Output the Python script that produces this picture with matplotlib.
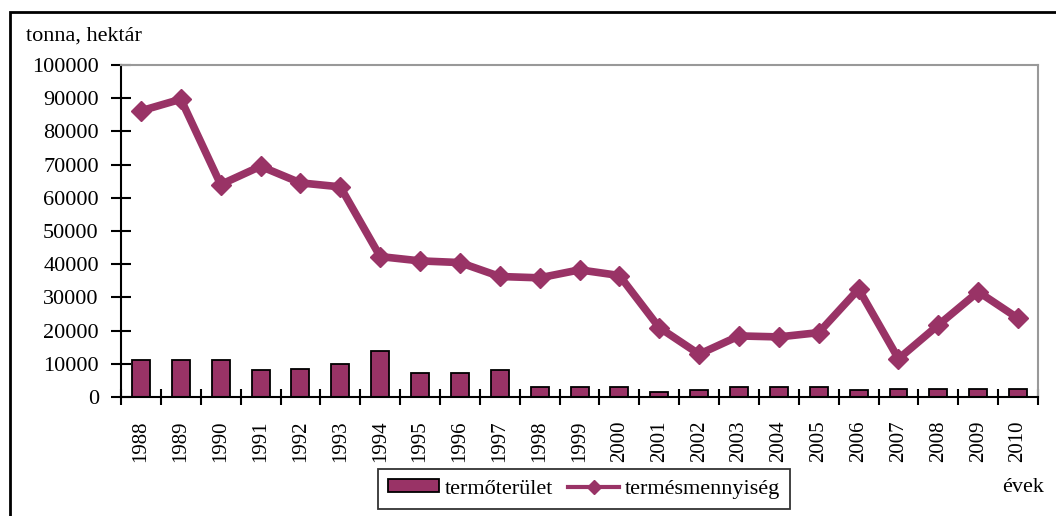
import matplotlib.pyplot as plt
from matplotlib.patches import Rectangle
from matplotlib.lines import Line2D
import numpy as np

plt.rcParams['font.family'] = ['Liberation Serif', 'DejaVu Serif']

# data
years = [str(y) for y in range(1988, 2011)]
termoterulet = [11000, 11000, 11000, 8000, 8500, 10000, 14000, 7300, 7300, 8000,
                3000, 3000, 3000, 1500, 2000, 3000, 3000, 3000, 2000, 2500,
                2500, 2500, 2500]
termesmennyiseg = [86200, 89700, 64000, 69500, 64500, 63300, 42300, 41000, 40500,
                   36300, 35900, 38300, 36600, 20900, 12900, 18400, 18100, 19400,
                   32500, 11500, 21700, 31700, 23700]
yticks = list(range(0, 100001, 10000))

color = '#993366'

fig = plt.figure(figsize=(10.56, 5.16), dpi=100)
ax = fig.add_axes([0.1146, 0.2306, 0.983 - 0.1146, 0.874 - 0.2306])

x = np.arange(len(years))
ax.bar(x, termoterulet, width=0.45, color=color, edgecolor='black', linewidth=1.3,
       zorder=2)
ax.plot(x, termesmennyiseg, color=color, linewidth=5.5, marker='D', markersize=10,
        zorder=3)

ax.set_xlim(-0.5, len(years) - 0.5)
ax.set_ylim(0, 100000)
ax.set_yticks(yticks)
ax.set_yticklabels([str(v) for v in yticks], fontsize=16)
ax.set_xticks(x)
ax.set_xticklabels(years, rotation=90, fontsize=15)
ax.tick_params(axis='x', length=0, pad=17)
# category boundary ticks
ax.set_xticks(np.arange(-0.5, len(years), 1), minor=True)
ax.tick_params(axis='x', which='minor', direction='inout', length=11, width=1.5)
ax.tick_params(axis='y', direction='inout', length=14, width=1.5, pad=9)

for s in ['left', 'bottom']:
    ax.spines[s].set_color('black')
    ax.spines[s].set_linewidth(1.5)
for s in ['top', 'right']:
    ax.spines[s].set_color('#999999')
    ax.spines[s].set_linewidth(1.5)

fig.text(26 / 1056, 1 - 36 / 516, 'tonna, hektár', fontsize=16, va='center', ha='left')
fig.text(1002 / 1056, 1 - 488 / 516, 'évek', fontsize=16, va='center', ha='left')

handles = [Rectangle((0, 0), 1, 1, facecolor=color, edgecolor='black', linewidth=1.3),
           Line2D([], [], color=color, linewidth=3, marker='D', markersize=7)]
leg = fig.legend(handles, ['termőterület', 'termésmennyiség'], loc='center',
                 bbox_to_anchor=(584 / 1056, 1 - 489 / 516), ncol=2, fontsize=16,
                 frameon=True, fancybox=False, edgecolor='black', borderpad=0.45,
                 handlelength=2.3, handletextpad=0.25, columnspacing=0.7,
                 handleheight=0.5)
leg.get_frame().set_linewidth(1.3)

# outer chart border
fig.patches.append(Rectangle((10 / 1056, -0.1), 1.2, 1 - 12 / 516 + 0.1,
                             transform=fig.transFigure, fill=False,
                             edgecolor='black', linewidth=2))

fig.savefig('out.png', dpi=100)
